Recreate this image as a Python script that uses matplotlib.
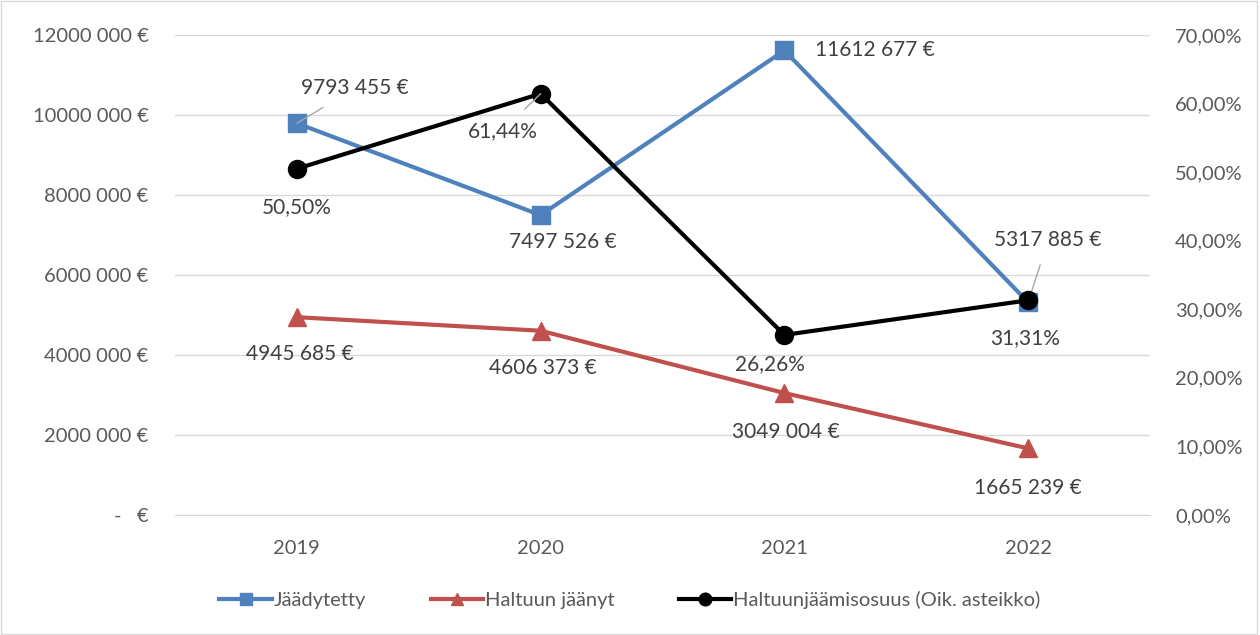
import numpy as np
import matplotlib.pyplot as plt
from matplotlib.patches import Rectangle

plt.rcParams['font.family'] = ['Lato', 'DejaVu Sans']

years = ['2019', '2020', '2021', '2022']
jaadytetty = [9793455, 7497526, 11612677, 5317885]
haltuun = [4945685, 4606373, 3049004, 1665239]
osuus = [50.50, 61.44, 26.26, 31.31]

blue, red = '#4F81BD', '#C0504D'
lab_col, tick_col, grid_col = '#404040', '#595959', '#D9D9D9'

def lab(v):
    # Excel style: "12000 000 €" (only the last group separated)
    v = int(v)
    if v == 0:
        return '-   €'
    return f"{v // 1000} {v % 1000:03d} €"

def pct(v):
    return f"{v:.2f}".replace('.', ',') + '%'

fig = plt.figure(figsize=(12.6, 6.35), dpi=100)
ax = fig.add_axes([175/1260, 1-515/635, 975/1260, 480/635])
ax2 = ax.twinx()

x = np.arange(len(years))
ax.plot(x, jaadytetty, color=blue, lw=3, marker='s', ms=13, label='Jäädytetty', zorder=3)
ax.plot(x, haltuun, color=red, lw=3, marker='^', ms=13, label='Haltuun jäänyt', zorder=3)
ax2.plot(x, osuus, color='black', lw=3, marker='o', ms=13,
         label='Haltuunjäämisosuus (Oik. asteikko)', zorder=3)

ax.set_xlim(-0.5, 3.5)
ax.set_ylim(0, 12000000)
ax2.set_ylim(0, 70)
left_ticks = np.arange(0, 12000001, 2000000)
ax.set_yticks(left_ticks)
ax.set_yticklabels([lab(v) for v in left_ticks])
right_ticks = np.arange(0, 71, 10)
ax2.set_yticks(right_ticks)
ax2.set_yticklabels([pct(v) for v in right_ticks])
ax.set_xticks(x)
ax.set_xticklabels(years)
ax.grid(axis='y', color=grid_col, lw=1)
ax.set_axisbelow(True)
for a in (ax, ax2):
    for s in a.spines.values():
        s.set_visible(False)
    a.tick_params(length=0, labelsize=14.5, colors=tick_col)
ax.spines['bottom'].set_visible(True)
ax.spines['bottom'].set_color(grid_col)
ax.tick_params(axis='x', pad=18)
ax.tick_params(axis='y', pad=19)
ax2.tick_params(axis='y', pad=18)

def note(a, xi, yi, txt, dx, dy, leader=False):
    kw = dict(textcoords='offset pixels', ha='center', va='center', fontsize=15, color=lab_col)
    if leader:
        kw['arrowprops'] = dict(arrowstyle='-', color='#A6A6A6', lw=1, shrinkA=9, shrinkB=0)
    a.annotate(txt, (xi, yi), xytext=(dx, dy), **kw)

off_j = [(58, 35, True), (22, -27, False), (91, 0, False), (20, 62, True)]
off_h = [(3, -37), (2, -37), (1, -39), (0, -40)]
off_o = [(0, -38, False), (-38, -37, True), (-14, -29, False), (-3, -38, False)]
for i in range(4):
    dx, dy, ld = off_j[i]
    note(ax, i, jaadytetty[i], lab(jaadytetty[i]), dx, dy, ld)
    dx, dy = off_h[i]
    note(ax, i, haltuun[i], lab(haltuun[i]), dx, dy)
    dx, dy, ld = off_o[i]
    note(ax2, i, osuus[i], pct(osuus[i]), dx, dy, ld)

h1, l1 = ax.get_legend_handles_labels()
h2, l2 = ax2.get_legend_handles_labels()
leg = fig.legend(h1 + h2, l1 + l2, loc='center', bbox_to_anchor=(0.5, 1-600/635), ncol=3,
                 frameon=False, fontsize=14.5, handlelength=2.6, columnspacing=3.2,
                 handletextpad=0.1, markerscale=0.7)
for t in leg.get_texts():
    t.set_color(tick_col)

fig.patches.append(Rectangle((0.001, 0.001), 0.997, 0.997, transform=fig.transFigure,
                             fill=False, edgecolor=grid_col, lw=1))

fig.savefig('out.png', dpi=100)
